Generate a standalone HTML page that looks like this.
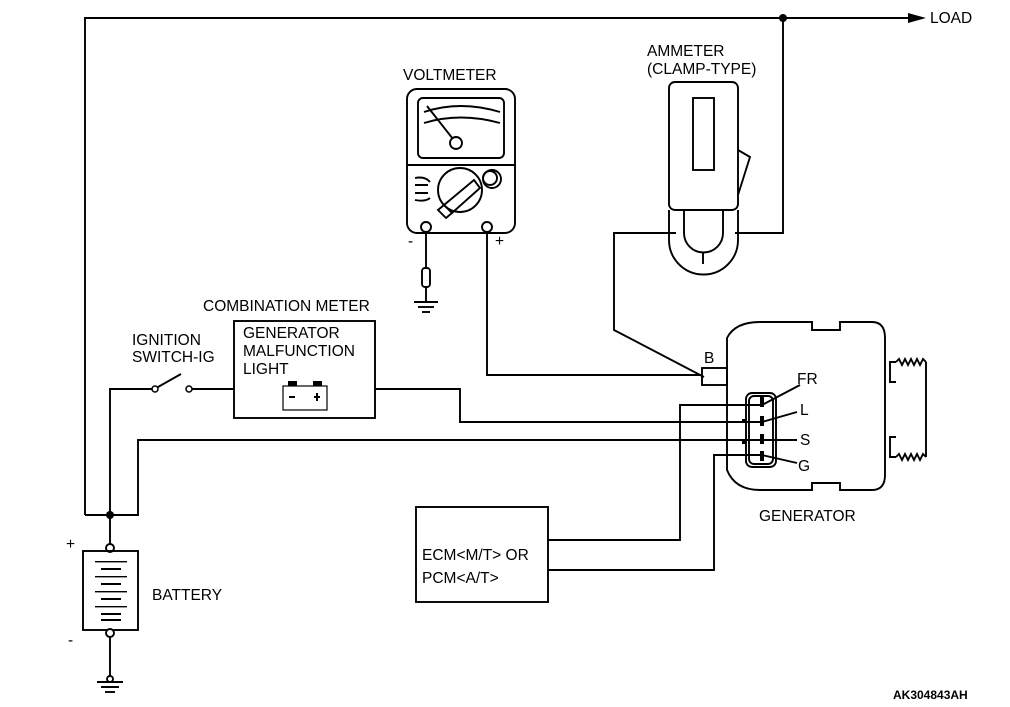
<!DOCTYPE html>
<html><head><meta charset="utf-8"><style>
html,body{margin:0;padding:0;background:#fff;}
svg{display:block;}
text{font-family:"Liberation Sans",Arial,sans-serif;fill:#000;}
</style></head><body>
<svg width="1010" height="707" viewBox="0 0 1010 707" xmlns="http://www.w3.org/2000/svg">
<g fill="none" stroke="#000" stroke-width="1.9">
<polyline points="85,515 85,18 910,18"/>
<polyline points="783,18 783,233 735,233"/>
<polyline points="676,233 614,233 614,330 704,377"/>
<polyline points="85,515 138,515 138,440 762,440"/>
<polyline points="110,515 110,545"/>
<polyline points="110,515 110,389 152,389"/>
<line x1="192" y1="389" x2="234" y2="389"/>
<line x1="158" y1="387" x2="181" y2="374"/>
<polyline points="375,389 460,389 460,422 762,422"/>
<polyline points="548,540 680,540 680,405 762,405"/>
<polyline points="548,570 714,570 714,455 762,455"/>
<polyline points="487,232 487,375 702,375"/>
<polyline points="426,232 426,268"/>
<rect x="422" y="268" width="8" height="19" rx="3"/>
<line x1="426" y1="287" x2="426" y2="302"/>
<line x1="414" y1="302" x2="438" y2="302"/>
<line x1="418" y1="307" x2="434" y2="307"/>
<line x1="422" y1="312" x2="430" y2="312"/>
<rect x="407" y="89" width="108" height="144" rx="10"/>
<rect x="418" y="98" width="86" height="60" rx="5"/>
<line x1="407" y1="165" x2="515" y2="165"/>
<path d="M424 112 Q460 100 500 112"/>
<path d="M424 123 Q460 112 500 123"/>
<line x1="427" y1="106" x2="453" y2="139"/>
<circle cx="456" cy="143" r="6"/>
<circle cx="492" cy="179" r="9"/>
<circle cx="490" cy="178" r="7"/>
<circle cx="460" cy="190" r="22"/>
<path d="M444 205 L474 180 L480 188 L452 213 Z"/>
<path d="M444 205 L438 210 L446 218 L452 213"/>
<path d="M415 178 Q425 176 430 182 M415 185 L428 185 M415 193 L428 193 M415 200 Q425 202 430 198"/>
<circle cx="426" cy="227" r="5"/>
<circle cx="487" cy="227" r="5"/>
<rect x="669" y="82" width="69" height="128" rx="6"/>
<rect x="693" y="98" width="21" height="72"/>
<path d="M738 150 L750 157 L738 195"/>
<path d="M669 210 L669 240 A34 34 0 0 0 738 240 L738 210"/>
<path d="M684 210 L684 233 A19 19 0 0 0 723 233 L723 210"/>
<line x1="703" y1="252" x2="703" y2="264"/>
<rect x="234" y="321" width="141" height="97"/>
<rect x="283" y="386" width="44" height="24" stroke-width="1.2"/>
<circle cx="110" cy="548" r="4" fill="#fff"/>
<rect x="83" y="551" width="55" height="79"/>
<circle cx="110" cy="633" r="4" fill="#fff"/>
<line x1="110" y1="637" x2="110" y2="676"/>
<circle cx="110" cy="679" r="3"/>
<line x1="97" y1="682" x2="123" y2="682"/>
<line x1="101" y1="687" x2="119" y2="687"/>
<line x1="105" y1="692" x2="115" y2="692"/>
<rect x="416" y="507" width="132" height="95"/>
<path d="M727 338 Q735 322 760 322 L812 322 L812 330 L840 330 L840 322 L872 322 Q885 322 885 338 L885 475 Q885 490 872 490 L840 490 L840 483 L812 483 L812 490 L760 490 Q735 490 727 470 Z"/>
<rect x="702" y="368" width="25" height="17"/>
<polyline points="896,362 890,362 890,382 896,382"/>
<polyline points="896,437 890,437 890,457 896,457"/>
<polyline points="896,362 899,359 902,365 905,359 908,365 911,359 914,365 917,359 920,365 923,359 926,362"/>
<polyline points="896,457 899,454 902,460 905,454 908,460 911,454 914,460 917,454 920,460 923,454 926,457"/>
<line x1="926" y1="362" x2="926" y2="457"/>
<rect x="746" y="393" width="30" height="74" rx="6"/>
<rect x="749" y="396" width="24" height="68" rx="5"/>
<line x1="762" y1="405" x2="800" y2="385"/>
<line x1="762" y1="422" x2="797" y2="412"/>
<line x1="762" y1="440" x2="797" y2="440"/>
<line x1="762" y1="455" x2="797" y2="463"/>
</g>
<g fill="#000">
<rect x="760" y="397" width="4" height="10"/>
<rect x="760" y="416" width="4" height="10"/>
<rect x="760" y="434" width="4" height="10"/>
<rect x="760" y="451" width="4" height="10"/>
<rect x="742" y="419" width="4" height="4"/>
<rect x="742" y="440" width="4" height="4"/>
<circle cx="783" cy="18" r="4"/>
<circle cx="110" cy="515" r="4"/>
<polygon points="908,13 926,18 908,23"/>
<rect x="288" y="381" width="9" height="5"/>
<rect x="313" y="381" width="9" height="5"/>
<rect x="289" y="396" width="6" height="2"/>
<rect x="314" y="396" width="6" height="2"/>
<rect x="316" y="393" width="2" height="8"/>
<rect x="95" y="561" width="32" height="1.4"/><rect x="101" y="568" width="20" height="2"/>
<rect x="95" y="576" width="32" height="1.4"/><rect x="101" y="583" width="20" height="2"/>
<rect x="95" y="591" width="32" height="1.4"/><rect x="101" y="598" width="20" height="2"/>
<rect x="95" y="606" width="32" height="1.4"/><rect x="101" y="613" width="20" height="2"/>
<rect x="101" y="619" width="20" height="2"/>
</g>
<circle cx="155" cy="389" r="3" fill="#fff" stroke="#000" stroke-width="1.5"/>
<circle cx="189" cy="389" r="3" fill="#fff" stroke="#000" stroke-width="1.5"/>
<g font-size="15.5">
<text x="930" y="23">LOAD</text>
<text x="647" y="56">AMMETER</text>
<text x="647" y="74">(CLAMP-TYPE)</text>
<text x="403" y="80">VOLTMETER</text>
<text x="408" y="246">-</text>
<text x="495" y="246">+</text>
<text x="203" y="311">COMBINATION METER</text>
<text x="132" y="345">IGNITION</text>
<text x="132" y="362">SWITCH-IG</text>
<text x="243" y="338">GENERATOR</text>
<text x="243" y="356">MALFUNCTION</text>
<text x="243" y="374">LIGHT</text>
<text x="704" y="363">B</text>
<text x="797" y="384">FR</text>
<text x="800" y="415">L</text>
<text x="800" y="445">S</text>
<text x="798" y="471">G</text>
<text x="759" y="521">GENERATOR</text>
<text x="422" y="560">ECM&lt;M/T&gt; OR</text>
<text x="422" y="583">PCM&lt;A/T&gt;</text>
<text x="152" y="600">BATTERY</text>
<text x="66" y="549">+</text>
<text x="68" y="645">-</text>
<text x="893" y="699" font-size="12" font-weight="bold">AK304843AH</text>
</g>
</svg>
</body></html>
